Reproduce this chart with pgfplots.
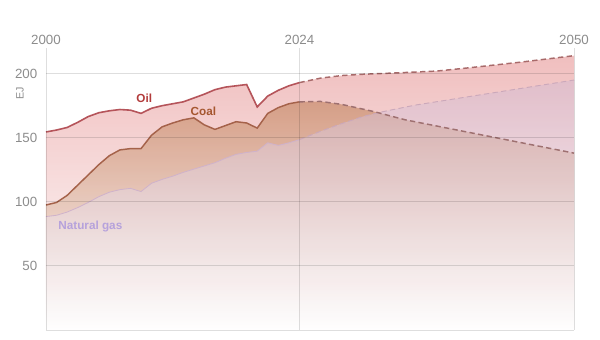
\documentclass[border=0pt]{standalone}
\usepackage{pgfplots}
\pgfplotsset{compat=1.18}
\usepackage{pgfplotstable}
\usepackage{fontspec}
\setmainfont{Liberation Sans}
\setsansfont{Liberation Sans}

\definecolor{oilF}{HTML}{E69494}
\definecolor{coalF}{HTML}{C4845E}
\definecolor{gasF}{HTML}{D2B8D0}
\definecolor{oilL}{HTML}{B5545A}
\definecolor{coalL}{HTML}{A5624A}
\definecolor{gasL}{HTML}{CFB2CB}
\definecolor{oilD}{HTML}{A86A6A}
\definecolor{coalD}{HTML}{9E7070}
\definecolor{gasD}{HTML}{CBA8BA}
\definecolor{tickc}{HTML}{8C8C8C}
\definecolor{oilT}{HTML}{B23B3B}
\definecolor{coalT}{HTML}{A5562F}
\definecolor{gasT}{HTML}{B6A2DC}

\pgfplotstableread{
year val
2000 154.5
2001 156
2002 158
2003 162
2004 166.5
2005 169.5
2006 171
2007 172
2008 171.5
2009 169
2010 173
2011 175
2012 176.5
2013 178
2014 181
2015 184
2016 187.5
2017 189.5
2018 190.5
2019 191.5
2020 174
2021 182.5
2022 187
2023 190.5
2024 193
2026 196.5
2028 198.5
2030 199.5
2033 200.5
2037 202
2040 204.5
2045 209
2050 214
}\oil

\pgfplotstableread{
year val
2000 97.5
2001 99.5
2002 105
2003 113
2004 121
2005 129
2006 136
2007 140.5
2008 141.5
2009 141.5
2010 152
2011 158.5
2012 161.5
2013 164
2014 165.5
2015 160
2016 156.5
2017 159.5
2018 162.5
2019 161.5
2020 157.5
2021 169
2022 173.5
2023 176.5
2024 178
2026 178.3
2028 176
2031 170.5
2034 164
2038 157.5
2042 151
2046 144.5
2050 138
}\coal

\pgfplotstableread{
year val
2000 88.5
2001 89.5
2002 92
2003 95.5
2004 99.5
2005 104
2006 107.5
2007 109.5
2008 110.5
2009 108
2010 114.5
2011 117.5
2012 120
2013 123
2014 125.5
2015 128
2016 130.5
2017 134
2018 137
2019 138.5
2020 139.5
2021 146
2022 144
2023 146
2024 148.5
2026 155
2028 161
2030 166.5
2032 170.5
2035 175.5
2040 182
2045 188.5
2050 195
}\gas

\begin{document}
\begin{tikzpicture}
\begin{axis}[
  scale only axis,
  width=396pt, height=211.5pt,
  xmin=2000, xmax=2050, ymin=0, ymax=220,
  axis line style={draw=none},
  xtick={2000,2024,2050},
  ytick={50,100,150,200},
  extra y ticks={0}, extra y tick labels={},
  xticklabel pos=upper,
  major tick length=0pt,
  xmajorgrids, ymajorgrids,
  grid style={draw=black, draw opacity=0.13, line width=0.7pt},
  tick label style={font=\fontsize{10}{12}\selectfont, text=tickc},
  xticklabel style={/pgf/number format/1000 sep={}, yshift=-1pt},
  yticklabel style={xshift=-3pt},
  /pgf/number format/assume math mode=true,
  axis on top,
  clip=false,
]
% filled areas
\addplot[draw=none, top color=oilF, middle color=oilF!92!white, bottom color=white, fill opacity=0.6] table[x=year,y=val]{\oil} \closedcycle;
\addplot[draw=none, top color=coalF, middle color=coalF!90!white, bottom color=white, fill opacity=0.62] table[x=year,y=val]{\coal} \closedcycle;
\addplot[draw=none, top color=gasF, middle color=gasF!90!white, bottom color=white, fill opacity=0.5] table[x=year,y=val]{\gas} \closedcycle;
% historical lines
\addplot[gasL, line width=0.6pt, restrict x to domain=2000:2024] table[x=year,y=val]{\gas};
\addplot[coalL, line width=1.1pt, restrict x to domain=2000:2024] table[x=year,y=val]{\coal};
\addplot[oilL, line width=1.2pt, restrict x to domain=2000:2024] table[x=year,y=val]{\oil};
% projections
\addplot[gasD, line width=0.7pt, dash pattern=on 4pt off 2.5pt, restrict x to domain=2024:2050] table[x=year,y=val]{\gas};
\addplot[coalD, line width=1.1pt, dash pattern=on 4pt off 2.5pt, restrict x to domain=2024:2050] table[x=year,y=val]{\coal};
\addplot[oilD, line width=1.1pt, dash pattern=on 4pt off 2.5pt, restrict x to domain=2024:2050] table[x=year,y=val]{\oil};
% labels
\node[font=\fontsize{8.8}{10}\selectfont\bfseries, text=oilT] at (axis cs:2009.3,180.5) {Oil};
\node[font=\fontsize{8.8}{10}\selectfont\bfseries, text=coalT] at (axis cs:2014.9,170.5) {Coal};
\node[font=\fontsize{8.8}{10}\selectfont\bfseries, text=gasT] at (axis cs:2004.2,80.5) {Natural gas};
\node[font=\fontsize{8}{10}\selectfont, text=tickc, rotate=90] at ([xshift=-19.5pt]rel axis cs:0,0.84) {EJ};
\coordinate (sw) at (rel axis cs:0,0);
\coordinate (ne) at (rel axis cs:1,1);
\end{axis}
\path[use as bounding box] ([shift={(-34.5pt,-7.5pt)}]sw) rectangle ([shift={(19.5pt,36pt)}]ne);
\end{tikzpicture}
\end{document}
